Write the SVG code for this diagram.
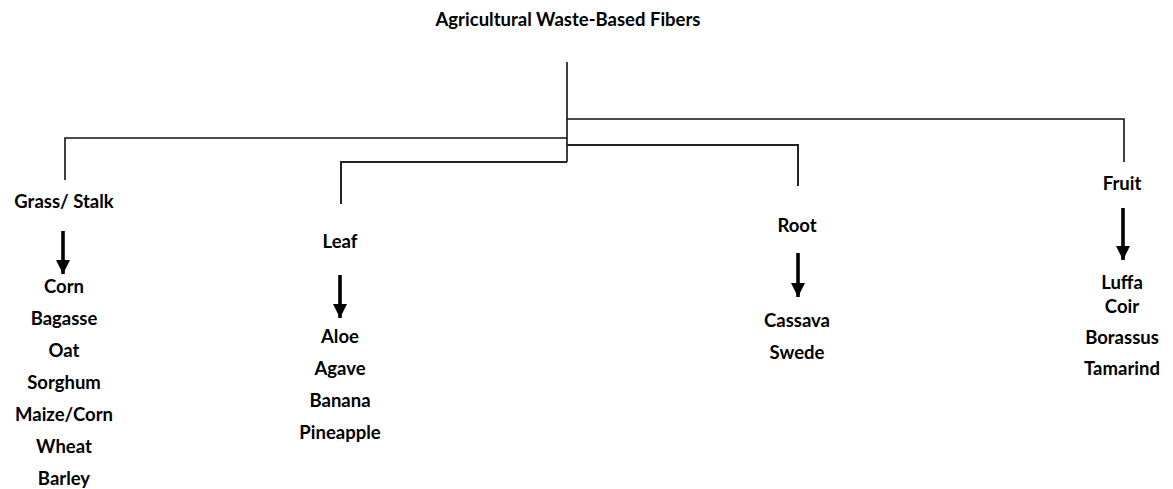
<svg xmlns="http://www.w3.org/2000/svg" width="1173" height="489" viewBox="0 0 1173 489">
<style>
text{font-family:Lato,"Open Sans","Liberation Sans",sans-serif;font-weight:700;font-size:18.5px;fill:#000;text-anchor:middle}
.c{fill:none;stroke:#111;stroke-width:1.6}
.c2{fill:none;stroke:#222;stroke-width:2}
.a{stroke:#000;stroke-width:3.6;fill:none}
</style>
<defs>
<marker id="ah" markerUnits="userSpaceOnUse" markerWidth="14" markerHeight="14" refX="13" refY="6.5" orient="auto" viewBox="0 0 13 13">
<path d="M0,0 L13,6.5 L0,13 Z" fill="#000"/>
</marker>
</defs>
<rect width="1173" height="489" fill="#fff"/>
<g id="connectors">
<path class="c" d="M567,62 V162"/>
<path class="c" d="M567,119 H1124 V162"/>
<path class="c" d="M567,138 H65 V180"/>
<path class="c2" d="M567,145 H798 V186"/>
<path class="c2" d="M567,162 H341 V204"/>
<line class="a" x1="63" y1="231" x2="63" y2="274" marker-end="url(#ah)"/>
<line class="a" x1="340" y1="275" x2="340" y2="318" marker-end="url(#ah)"/>
<line class="a" x1="798" y1="253" x2="798" y2="297" marker-end="url(#ah)"/>
<line class="a" x1="1123" y1="208" x2="1123" y2="260" marker-end="url(#ah)"/>
</g>
<g id="root"><text x="568" y="26">Agricultural  Waste-Based Fibers</text></g>
<g id="grass">
<text x="64" y="208">Grass/ Stalk</text>
<text x="64" y="293">Corn</text>
<text x="64" y="325">Bagasse</text>
<text x="64" y="357">Oat</text>
<text x="64" y="389">Sorghum</text>
<text x="64" y="421">Maize/Corn</text>
<text x="64" y="453">Wheat</text>
<text x="64" y="485">Barley</text>
</g>
<g id="leaf">
<text x="340" y="248">Leaf</text>
<text x="340" y="343">Aloe</text>
<text x="340" y="375">Agave</text>
<text x="340" y="407">Banana</text>
<text x="340" y="439">Pineapple</text>
</g>
<g id="rootnode">
<text x="797" y="232">Root</text>
<text x="797" y="327">Cassava</text>
<text x="797" y="359">Swede</text>
</g>
<g id="fruit">
<text x="1122" y="190">Fruit</text>
<text x="1122" y="289">Luffa</text>
<text x="1122" y="313">Coir</text>
<text x="1122" y="344">Borassus</text>
<text x="1122" y="375">Tamarind</text>
</g>
</svg>
